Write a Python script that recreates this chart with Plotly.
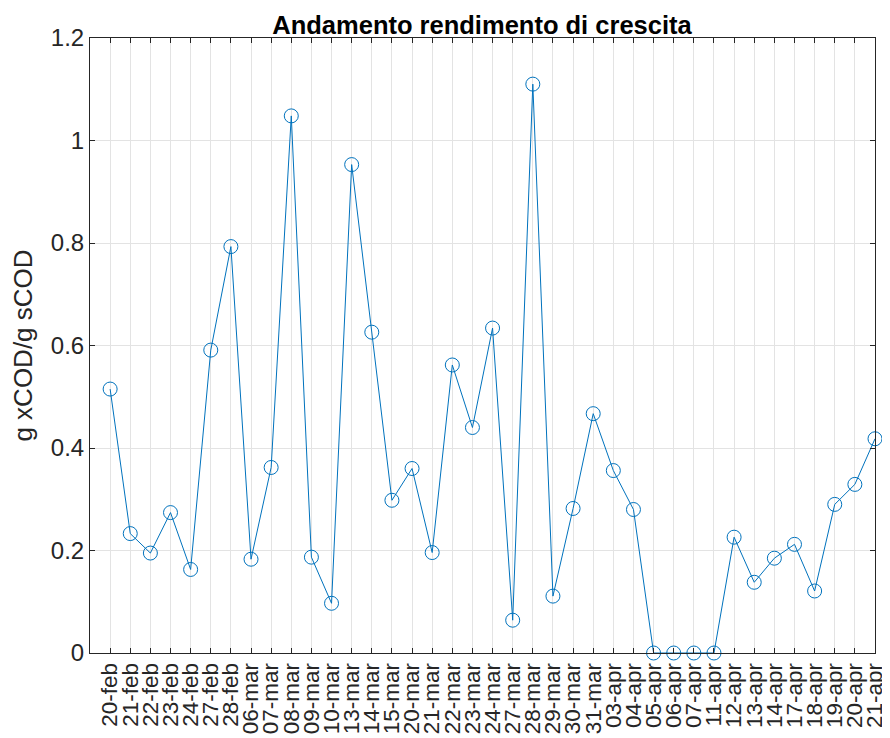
import plotly.graph_objects as go

dates = ["20-feb", "21-feb", "22-feb", "23-feb", "24-feb", "27-feb", "28-feb",
         "06-mar", "07-mar", "08-mar", "09-mar", "10-mar", "13-mar", "14-mar",
         "15-mar", "20-mar", "21-mar", "22-mar", "23-mar", "24-mar", "27-mar",
         "28-mar", "29-mar", "30-mar", "31-mar", "03-apr", "04-apr", "05-apr",
         "06-apr", "07-apr", "11-apr", "12-apr", "13-apr", "14-apr", "17-apr",
         "18-apr", "19-apr", "20-apr", "21-apr"]
yield_values = [0.515, 0.233, 0.195, 0.274, 0.163, 0.591, 0.793,
                0.183, 0.362, 1.048, 0.187, 0.097, 0.953, 0.626,
                0.298, 0.360, 0.196, 0.562, 0.440, 0.634, 0.064,
                1.110, 0.111, 0.282, 0.467, 0.356, 0.280, 0.0,
                0.0, 0.0, 0.0, 0.226, 0.138, 0.185, 0.212,
                0.121, 0.290, 0.329, 0.418]
y_ticks = [0, 0.2, 0.4, 0.6, 0.8, 1.0, 1.2]
y_tick_text = ["0", "0.2", "0.4", "0.6", "0.8", "1", "1.2"]

blue = "#0072BD"
axc = "#262626"
font = "Liberation Sans, Arial, Helvetica, sans-serif"

W, H = 882, 730

fig = go.Figure()
fig.add_trace(go.Scatter(
    x=dates, y=yield_values, mode="lines+markers",
    line=dict(color=blue, width=1),
    marker=dict(symbol="circle-open", size=14, color=blue, line=dict(width=1, color=blue)),
    cliponaxis=False, showlegend=False,
))

fig.update_layout(
    width=W, height=H,
    margin=dict(l=82, r=15, t=30, b=85, autoexpand=False),
    plot_bgcolor="white", paper_bgcolor="white",
    font=dict(family=font, size=24, color=axc),
    title=dict(text="<b>Andamento rendimento di crescita</b>",
               x=474 / W, xanchor="center", xref="container",
               y=1 - 8 / H, yanchor="top", yref="container",
               font=dict(family=font, size=25.5, color="black")),
)
fig.update_xaxes(
    type="category", range=[-1, len(dates) - 1], automargin=False,
    tickmode="array", tickvals=dates, ticktext=dates,
    tickangle=-90, ticks="inside", ticklen=5, tickcolor=axc,
    showline=True, linecolor=axc, linewidth=1, mirror="ticks",
    showgrid=True, gridcolor="#e3e3e3", gridwidth=1,
    tickfont=dict(family=font, size=22.5, color=axc),
    zeroline=False,
)
fig.update_yaxes(
    range=[0, 1.2], tickmode="array", tickvals=y_ticks, ticktext=y_tick_text,
    automargin=False,
    ticks="inside", ticklen=5, tickcolor=axc,
    showline=True, linecolor=axc, linewidth=1, mirror="ticks",
    showgrid=True, gridcolor="#e3e3e3", gridwidth=1,
    tickfont=dict(family=font, size=24, color=axc),
    title=dict(text="g xCOD/g sCOD", font=dict(family=font, size=26, color=axc), standoff=22),
    zeroline=False,
)

fig.write_html("out.html")
